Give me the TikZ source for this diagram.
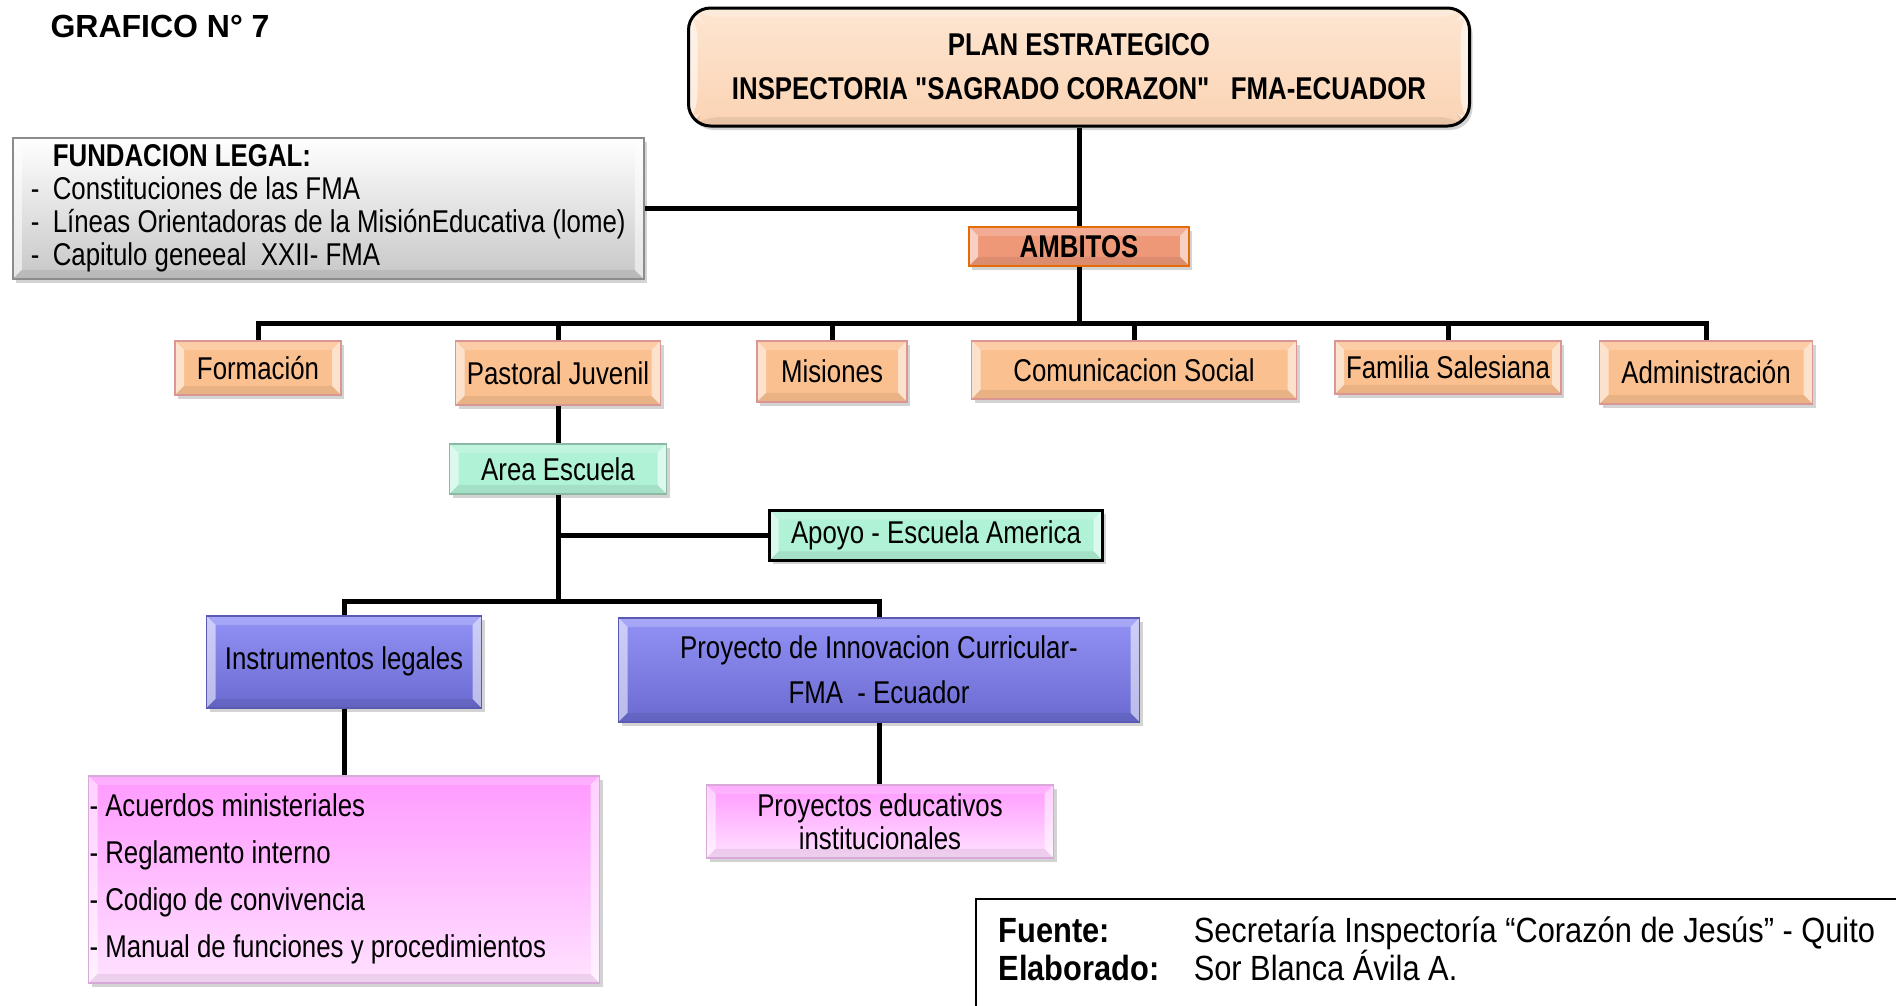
\documentclass[tikz,border=0pt]{standalone}
\usepackage{fontspec}
\setmainfont{Liberation Sans}[FakeStretch=0.82,Ligatures=TeXOff]
\newfontfamily\plainfont{Liberation Sans}
\newfontfamily\notefont{Liberation Sans}[FakeStretch=0.88]
\usetikzlibrary{positioning,shadows,calc}
\definecolor{PeachFill}{HTML}{FAC090}
\definecolor{PeachLine}{HTML}{D99694}
\definecolor{TitleTop}{HTML}{FDE6D2}
\definecolor{TitleBot}{HTML}{FBD3B3}
\definecolor{SalmonFill}{HTML}{EE9878}
\definecolor{SalmonLine}{HTML}{E36C09}
\definecolor{MintFill}{HTML}{B0F2D6}
\definecolor{MintLine}{HTML}{8CB8A4}
\definecolor{VioletTop}{HTML}{9292F6}
\definecolor{VioletBot}{HTML}{6A6AD0}
\definecolor{VioletLine}{HTML}{5A5AB0}
\definecolor{PinkTop}{HTML}{FF99FF}
\definecolor{PinkBot}{HTML}{FFE2FF}
\definecolor{PinkLine}{HTML}{D8A8D8}
\definecolor{GrayLine}{HTML}{8C8C8C}
\tikzset{
  bevel/.style={path picture={
      \path (path picture bounding box.south west) coordinate (bsw)
            (path picture bounding box.north east) coordinate (bne);
      \fill[white,opacity=.55] (bsw) -- ++(9pt,9pt) -- ($(bsw|-bne)+(9pt,-9pt)$) -- (bsw|-bne) -- cycle;
      \fill[white,opacity=.55] (bne) -- ++(-9pt,-9pt) -- ($(bne|-bsw)+(-9pt,9pt)$) -- (bne|-bsw) -- cycle;
      \fill[white,opacity=.2] (bsw|-bne) -- ++(9pt,-9pt) -- ($(bne)+(-9pt,-9pt)$) -- (bne) -- cycle;
      \fill[black,opacity=.07] (bsw) -- ++(9pt,9pt) -- ($(bne|-bsw)+(-9pt,9pt)$) -- (bne|-bsw) -- cycle;
    }},
  BX/.style={rectangle,draw,line width=1.5pt,align=center,anchor=north,
             inner sep=2pt,font=\fontsize{31.5}{38}\selectfont,
             drop shadow={opacity=0.35,shadow xshift=3pt,shadow yshift=-4pt},
             bevel},
  nP/.style={BX,fill=PeachFill,draw=PeachLine},
  nA/.style={BX,fill=SalmonFill,draw=SalmonLine,font=\fontsize{31.5}{38}\selectfont\bfseries},
  nM/.style={BX,fill=MintFill,draw=MintLine},
  nK/.style={BX,fill=MintFill,draw=black,line width=2.5pt},
  nV/.style={BX,top color=VioletTop,bottom color=VioletBot,draw=VioletLine},
  nK2/.style={BX,top color=PinkTop,bottom color=PinkBot,draw=PinkLine},
  conn/.style={line width=5pt}
}

\begin{document}
\begin{tikzpicture}[x=1pt,y=-1pt]
  \useasboundingbox (0,0) rectangle (1896,1005);
  \clip (0,0) rectangle (1896,1005);

  \node[anchor=west,font=\plainfont\bfseries\fontsize{32}{36}\selectfont] (grafico) at (47,26) {GRAFICO N° 7};

  % cabecera
  \node[BX,anchor=center,rounded corners=22pt,draw=black,line width=3pt,
        top color=TitleTop,bottom color=TitleBot,minimum width=781,minimum height=118,
        font=\fontsize{31.5}{44}\selectfont\bfseries] (title) at (1079,67)
        {PLAN ESTRATEGICO\\INSPECTORIA "SAGRADO CORAZON"~~~FMA-ECUADOR};
  \node[BX,anchor=north west,draw=GrayLine,top color=white,bottom color=black!22,
        minimum width=631,minimum height=141,inner xsep=9pt,align=left,
        font=\fontsize{31.5}{33}\selectfont] (fund) at (12,137)
        {\textbf{\hspace*{22pt}FUNDACION LEGAL:}\\
         \makebox[22pt][l]{-}Constituciones de las FMA\\
         \makebox[22pt][l]{-}Líneas Orientadoras de la MisiónEducativa (lome)\\
         \makebox[22pt][l]{-}Capitulo geneeal\ \ XXII- FMA};
  \node[nA,minimum width=220,minimum height=39] (ambitos) at (1079,226) {AMBITOS};

  % ambitos
  \node[nP,minimum width=166,minimum height=54] (formacion) at (258,340) {Formación};
  \node[nP,minimum width=205,minimum height=64] (pastoral) at (558,340) {Pastoral Juvenil};
  \node[nP,minimum width=150,minimum height=61] (misiones) at (832,340) {Misiones};
  \node[nP,minimum width=325,minimum height=58] (comunic) at (1134,340) {Comunicacion Social};
  \node[nP,minimum width=226,minimum height=53] (familia) at (1448,340) {Familia Salesiana};
  \node[nP,minimum width=213,minimum height=63] (admin) at (1706,340) {Administración};

  % pastoral juvenil
  \node[nM,minimum width=217,minimum height=50] (area) at (558,443) {Area Escuela};
  \node[nK,minimum width=333,minimum height=50] (apoyo) at (936,509) {Apoyo - Escuela America};
  \node[nV,minimum width=275,minimum height=92] (instrum) at (344,615) {Instrumentos legales};
  \node[nV,minimum width=521,minimum height=104,font=\fontsize{31.5}{45}\selectfont] (innov) at (879,617)
        {Proyecto de Innovacion Curricular-\\FMA\ \ - Ecuador};
  \node[nK2,minimum width=511,minimum height=207,inner xsep=1pt,text width=509,align=flush left,
        font=\fontsize{31.5}{47}\selectfont] (acuerdos) at (344,775)
        {- Acuerdos ministeriales\\- Reglamento interno\\- Codigo de convivencia\\- Manual de funciones y procedimientos};
  \node[nK2,minimum width=347,minimum height=73,font=\fontsize{31.5}{33}\selectfont] (pei) at (880,784)
        {Proyectos educativos\\institucionales};

  % fuente
  \node[draw=black,line width=1.5pt,anchor=north west,
        inner xsep=23pt,inner ysep=18pt,text width=914,align=flush left,
        font=\notefont\fontsize{35}{38}\selectfont] (fuente) at (975,898)
        {\makebox[195pt][l]{\textbf{Fuente:}}Secretaría Inspectoría “Corazón de Jesús” - Quito\\
         \makebox[195pt][l]{\textbf{Elaborado:}}Sor Blanca Ávila A.\\[60pt]\mbox{}};

  \coordinate (bus) at (1079,323);
  \coordinate (lowbus) at (558,601);

  \draw[conn] (title) -- (ambitos);
  \draw[conn] (fund.east) -- (fund.east -| title.south);
  \draw[conn] (ambitos) -- (bus);
  \draw[conn] (formacion.north) |- (bus) -| (admin.north);
  \foreach \n in {pastoral,misiones,comunic,familia}
    \draw[conn] (\n.north) -- (\n.north |- bus);
  \draw[conn] (pastoral) -- (area);
  \draw[conn] (area) -- (lowbus);
  \draw[conn] (area.south |- apoyo.west) -- (apoyo.west);
  \draw[conn] (instrum.north) |- (lowbus) -| (innov.north);
  \draw[conn] (instrum) -- (acuerdos);
  \draw[conn] (innov.south) -- (innov.south |- pei.north);
\end{tikzpicture}
\end{document}
